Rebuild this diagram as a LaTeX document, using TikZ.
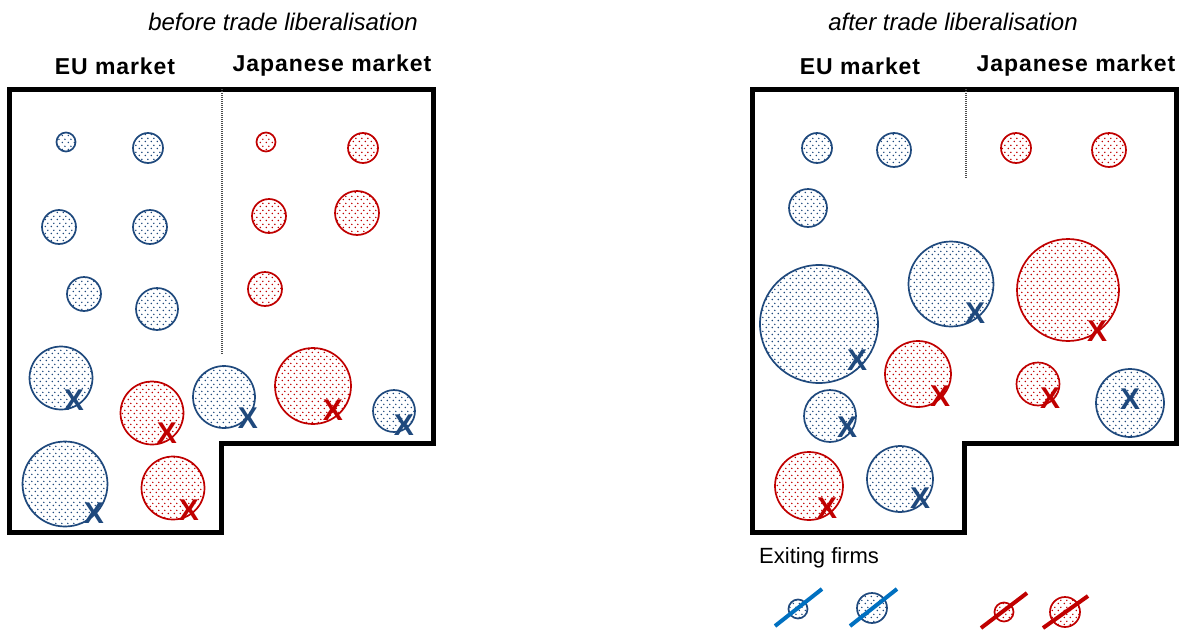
\documentclass[tikz,border=0pt]{standalone}
\usepackage{fontspec}
\setmainfont{Liberation Sans}
\usepackage{tikz}
\usetikzlibrary{patterns}

\definecolor{eublue}{RGB}{31,73,125}
\definecolor{jpred}{RGB}{192,0,0}
\definecolor{cutblue}{RGB}{0,112,192}

% staggered dots used to fill the firms
\pgfdeclarepatternformonly{firmdots}{\pgfpointorigin}{\pgfqpoint{5.5pt}{6.5pt}}{\pgfqpoint{5.5pt}{6.5pt}}{
  \pgfpathcircle{\pgfqpoint{1.375pt}{1.625pt}}{0.85pt}
  \pgfpathcircle{\pgfqpoint{4.125pt}{4.875pt}}{0.85pt}
  \pgfusepath{fill}
}

\begin{document}
\begin{tikzpicture}[
  x=1pt, y=-1pt,
  firm/.style={circle, line width=1.7pt, inner sep=0pt, pattern=firmdots},
  eu/.style={firm, draw=eublue, pattern color=eublue},
  jp/.style={firm, draw=jpred, pattern color=jpred},
  size/.style={minimum size=#1},
  exitx/.style={inner sep=0pt, font=\bfseries\fontsize{30}{30}\selectfont},
  frame/.style={line width=5pt},
  divider/.style={line width=2pt, black!70, dash pattern=on 1pt off 1pt},
  title/.style={font=\itshape\fontsize{24}{24}\selectfont},
  market/.style={font=\bfseries\fontsize{23}{23}\selectfont\addfontfeature{LetterSpace=4}},
  cut/.style={line width=4pt}
]
\useasboundingbox (0,0) rectangle (1189,632);

% before
\node[title] (t1) at (283,22) {before trade liberalisation};
\node[market] (m1) at (115,66) {EU market};
\node[market] (m2) at (332,66) {Japanese market};
\draw[frame] (9,89) -- (433,89) -- (433,443) -- (221,443) -- (221,532) -- (9,532) -- cycle;
\draw[divider] (222,89) -- (222,355);

\node[eu, size=19] (a1) at (66,142) {};
\node[eu, size=30] (a2) at (148,148) {};
\node[eu, size=34] (a3) at (59,227) {};
\node[eu, size=34] (a4) at (150,227) {};
\node[eu, size=34] (a5) at (84,294) {};
\node[eu, size=42] (a6) at (157,309) {};
\node[eu, size=63] (a7) at (61,378) {};
\node[eu, size=85] (a8) at (65,484) {};
\node[eu, size=62] (a9) at (224,397) {};
\node[eu, size=42] (a10) at (394,411) {};
\node[jp, size=19] (b1) at (266,142) {};
\node[jp, size=30] (b2) at (363,148) {};
\node[jp, size=34] (b3) at (269,216) {};
\node[jp, size=44] (b4) at (357,213) {};
\node[jp, size=34] (b5) at (265,289) {};
\node[jp, size=63] (b6) at (152,413) {};
\node[jp, size=63] (b7) at (173,488) {};
\node[jp, size=76] (b8) at (313,386) {};

\node[exitx, eublue] (x1) at (74,400) {X};
\node[exitx, eublue] (x2) at (94,513) {X};
\node[exitx, eublue] (x3) at (248,418) {X};
\node[exitx, eublue] (x4) at (404,425) {X};
\node[exitx, jpred] (x5) at (167,433) {X};
\node[exitx, jpred] (x6) at (189,510) {X};
\node[exitx, jpred] (x7) at (333,410) {X};

% after
\node[title] (t2) at (953,22) {after trade liberalisation};
\node[market] (m3) at (860,66) {EU market};
\node[market] (m4) at (1076,66) {Japanese market};
\draw[frame] (752,89) -- (1176,89) -- (1176,443) -- (964,443) -- (964,532) -- (752,532) -- cycle;
\draw[divider] (966,89) -- (966,178);

\node[eu, size=30] (c1) at (817,148) {};
\node[eu, size=34] (c2) at (894,150) {};
\node[eu, size=38] (c3) at (808,208) {};
\node[eu, size=85] (c4) at (951,284) {};
\node[eu, size=118] (c5) at (819,324) {};
\node[eu, size=52] (c6) at (830,416) {};
\node[eu, size=66] (c7) at (900,479) {};
\node[eu, size=68] (c8) at (1130,403) {};
\node[jp, size=30] (d1) at (1016,148) {};
\node[jp, size=34] (d2) at (1109,150) {};
\node[jp, size=102] (d3) at (1068,290) {};
\node[jp, size=66] (d4) at (918,374) {};
\node[jp, size=43] (d5) at (1038,384) {};
\node[jp, size=68] (d6) at (809,486) {};

\node[exitx, eublue] (y1) at (975,313) {X};
\node[exitx, eublue] (y2) at (857,360) {X};
\node[exitx, eublue] (y3) at (847,427) {X};
\node[exitx, eublue] (y4) at (920,498) {X};
\node[exitx, eublue] (y5) at (1130,399) {X};
\node[exitx, jpred] (y6) at (1097,331) {X};
\node[exitx, jpred] (y7) at (940,396) {X};
\node[exitx, jpred] (y8) at (1050,398) {X};
\node[exitx, jpred] (y9) at (827,508) {X};

% legend
\node[anchor=west, font=\fontsize{22}{22}\selectfont, inner sep=0pt] (ex) at (759,558) {Exiting firms};
\node[eu, size=19] (q1) at (798,609) {};
\node[eu, size=30] (q2) at (872,608) {};
\node[jp, size=19] (q3) at (1004,612) {};
\node[jp, size=30] (q4) at (1065,612) {};
\draw[cut, cutblue] (q1) +(-23,17) -- +(24,-20);
\draw[cut, cutblue] (q2) +(-22,18) -- +(25,-19);
\draw[cut, jpred] (q3) +(-23,16) -- +(23,-19);
\draw[cut, jpred] (q4) +(-22,16) -- +(23,-16);
\end{tikzpicture}
\end{document}
